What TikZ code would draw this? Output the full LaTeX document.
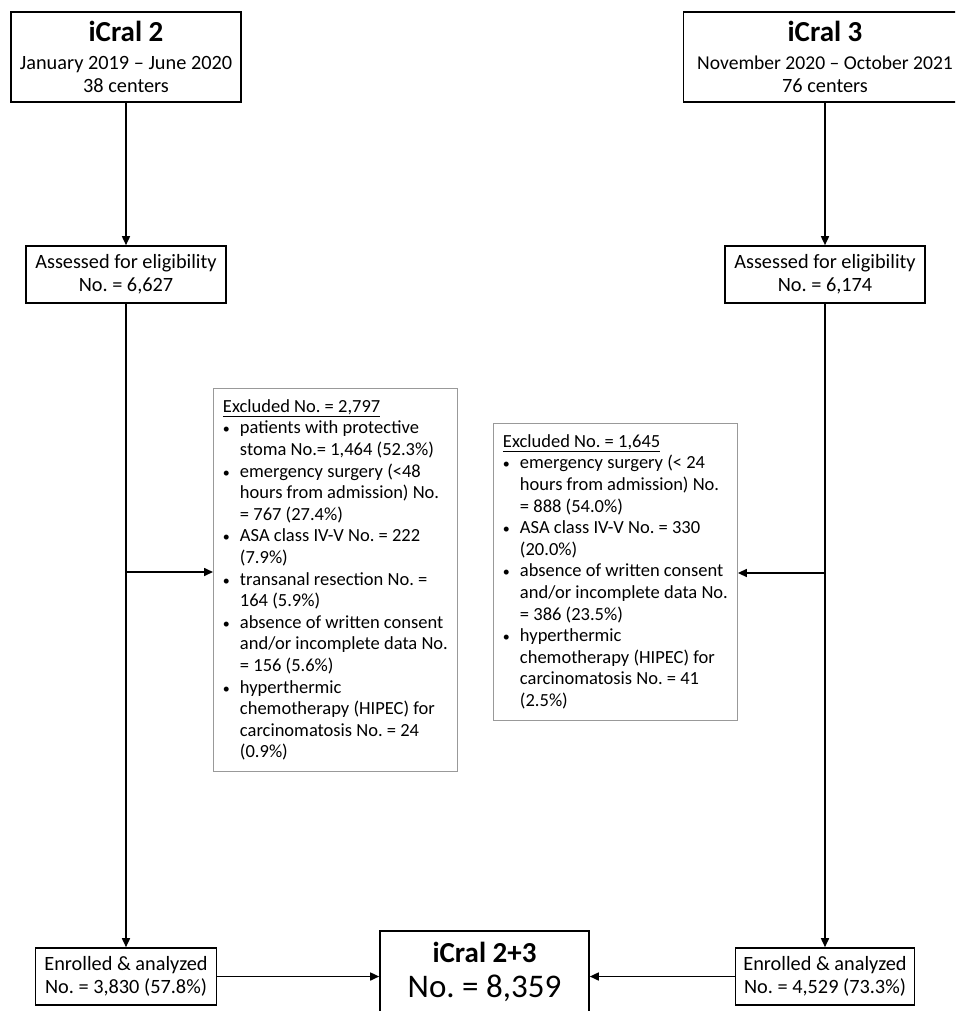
\documentclass[tikz,border=0pt]{standalone}
\usepackage{fontspec}
\setmainfont{Carlito}
\usepackage{tikz}
\usetikzlibrary{arrows.meta,positioning,calc}

%% bullet and hanging indent for the exclusion lists
\newcommand{\exbul}{\makebox[17pt][l]{\fontsize{14}{14}\selectfont\textbullet}}
\newcommand{\exind}{\hspace*{17pt}}
\newcommand{\ttlfont}{\fontsize{29}{32}\selectfont\bfseries}

\begin{document}
\frenchspacing
\begin{tikzpicture}[
      x=1pt, y=-1pt,
      font=\fontsize{20.3}{23}\selectfont,
      box/.style={draw, line width=1.6pt, align=center, inner sep=0pt},
      excl/.style={draw=black!40, line width=0.9pt, align=left, minimum width=244pt,
                   inner xsep=0pt, inner ysep=11pt, anchor=north west,
                   font=\fontsize{18.5}{21.6}\selectfont},
      arr/.style={line width=1.6pt, -{Triangle[length=9pt,width=8pt]}}]

    %% Canvas is the 955 x 1011 reference, y running downwards; the iCral 3 box and
    %% the pooled box run off its right and bottom edges, so both are cut by the clip.
    \useasboundingbox (0,0) rectangle (955,1011);
    \clip (0,0) rectangle (955,1011);

    %% ---- the two cohorts ----
    \node[box, minimum width=230pt, minimum height=90pt] (icA) at (126,57)
      {{\ttlfont iCral 2}\\[5pt] January 2019 -- June 2020\\ 38 centers};
    %% date line a touch smaller so its last digit stays inside the page edge
    \node[box, minimum width=283pt, minimum height=90pt] (icB) at (825,57)
      {{\ttlfont iCral 3}\\[5pt]
       {\fontsize{19.6}{23}\selectfont November 2020 -- October 2021}\\ 76 centers};

    \node[box, minimum width=200pt, minimum height=57pt] (asA) at (126,274.5)
      {Assessed for eligibility\\ No. = 6,627};
    \node[box, minimum width=200pt, minimum height=57pt] (asB) at (825,274.5)
      {Assessed for eligibility\\ No. = 6,174};

    %% ---- exclusions, hung off the vertical flow lines ----
    %% lines are broken by hand, as printed; the box width is fixed, not the text's
    \node[excl] (exA) at (213,388)
      {\underline{Excluded No. = 2,797}\\
       \exbul patients with protective\\ \exind stoma No.= 1,464 (52.3\%)\\
       \exbul emergency surgery (<48\\ \exind hours from admission) No.\\
       \exind = 767 (27.4\%)\\
       \exbul ASA class IV-V No. = 222\\ \exind (7.9\%)\\
       \exbul transanal resection No. =\\ \exind 164 (5.9\%)\\
       \exbul absence of written consent\\ \exind and/or incomplete data No.\\
       \exind = 156 (5.6\%)\\
       \exbul hyperthermic\\ \exind chemotherapy (HIPEC) for\\
       \exind carcinomatosis No. = 24\\ \exind (0.9\%)};
    \node[excl] (exB) at (493,423)
      {\underline{Excluded No. = 1,645}\\
       \exbul emergency surgery (< 24\\ \exind hours from admission) No.\\
       \exind = 888 (54.0\%)\\
       \exbul ASA class IV-V No. = 330\\ \exind (20.0\%)\\
       \exbul absence of written consent\\ \exind and/or incomplete data No.\\
       \exind = 386 (23.5\%)\\
       \exbul hyperthermic\\ \exind chemotherapy (HIPEC) for\\
       \exind carcinomatosis No. = 41\\ \exind (2.5\%)};

    %% ---- enrolled, and the pooled cohort ----
    \node[box, minimum width=181pt, minimum height=57pt] (enA) at (126,976.5)
      {Enrolled \& analyzed\\ No. = 3,830 (57.8\%)};
    \node[box, minimum width=179pt, minimum height=57pt] (enB) at (825,976.5)
      {Enrolled \& analyzed\\ No. = 4,529 (73.3\%)};
    \node[box, minimum width=209pt, minimum height=81pt] (tot) at (484.5,971.5)
      {{\ttlfont iCral 2+3}\\[12pt] {\fontsize{33}{36}\selectfont No. = 8,359}};

    \coordinate (brA) at (126,572);
    \coordinate (brB) at (825,573);

    \draw[arr] (icA) -- (asA);
    \draw[arr] (icB) -- (asB);
    \draw[arr] (asA) -- (enA);
    \draw[arr] (asB) -- (enB);
    \draw[arr] (brA) -- (brA -| exA.west);
    \draw[arr] (brB) -- (brB -| exB.east);
    \draw[arr] (enA.east) -- (enA.east -| tot.west);
    \draw[arr] (enB.west) -- (enB.west -| tot.east);
  \end{tikzpicture}
\end{document}
